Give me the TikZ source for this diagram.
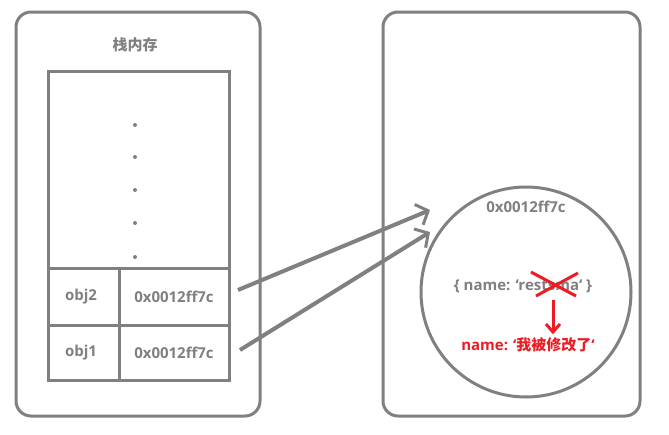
\documentclass[tikz,border=0pt]{standalone}
\usepackage{fontspec}
\setmainfont{Open Sans}
\newfontfamily\cjk{Noto Sans CJK SC}
\usetikzlibrary{arrows.meta}
\definecolor{g}{RGB}{128,128,128}
\definecolor{r}{RGB}{237,28,36}
\newcommand{\bq}{\symbol{96}}
\begin{document}
\begin{tikzpicture}[x=1pt,y=-1pt,
  box/.style={draw=g,line width=3pt},
  lbl/.style={text=g,font=\bfseries\fontsize{15}{18}\selectfont},
  conn/.style={draw=g,line width=4pt,-{Straight Barb[length=10pt,width=22pt,line width=3pt]}}]
\useasboundingbox (0,0) rectangle (669,434);
\draw[box,rounded corners=15pt] (16,12) rectangle (260,416);
\draw[box,rounded corners=15pt] (383,12) rectangle (640,416);
\node[lbl] (title) at (135,45) {\cjk 栈内存};
\draw[box] (48,71) rectangle (229,380);
\draw[box] (48,268) -- (229,268) (48,325) -- (229,325) (119,268) -- (119,380);
\foreach \y in {125,157,190,223,257} \fill[g] (135,\y) circle (2pt);
\node[lbl] (n2) at (81,297) {obj2};
\node[lbl] (n1) at (81,353) {obj1};
\node[lbl,inner sep=1pt] (a2) at (174,297) {0x0012ff7c};
\node[lbl,inner sep=1pt] (a1) at (174,353) {0x0012ff7c};
\node[box,circle,minimum size=210pt,inner sep=0pt] (heap) at (526,292) {};
\node[lbl] (addr) at (526,207) {0x0012ff7c};
\node[lbl] (obj) at (523,286) {\{ name: \bq restsma\bq\ \}};
\node[text=r,font=\bfseries\fontsize{15}{18}\selectfont] (new) at (528,345) {name: \bq{\cjk 我被修改了}\bq};
\coordinate (t2) at (430,210);
\coordinate (t1) at (430,232);
\draw[conn] (238,290) coordinate (s2) -- (t2);
\draw[conn] (240,350) coordinate (s1) -- (t1);
\draw[r,line width=3pt] (531,272) -- (576,296) (536,296) -- (578,273);
\coordinate (xa) at (553,300);
\draw[r,line width=3pt,-{Straight Barb[length=8pt,width=14pt,line width=3pt]}] (xa) -- (new.north -| xa);
\end{tikzpicture}
\end{document}
